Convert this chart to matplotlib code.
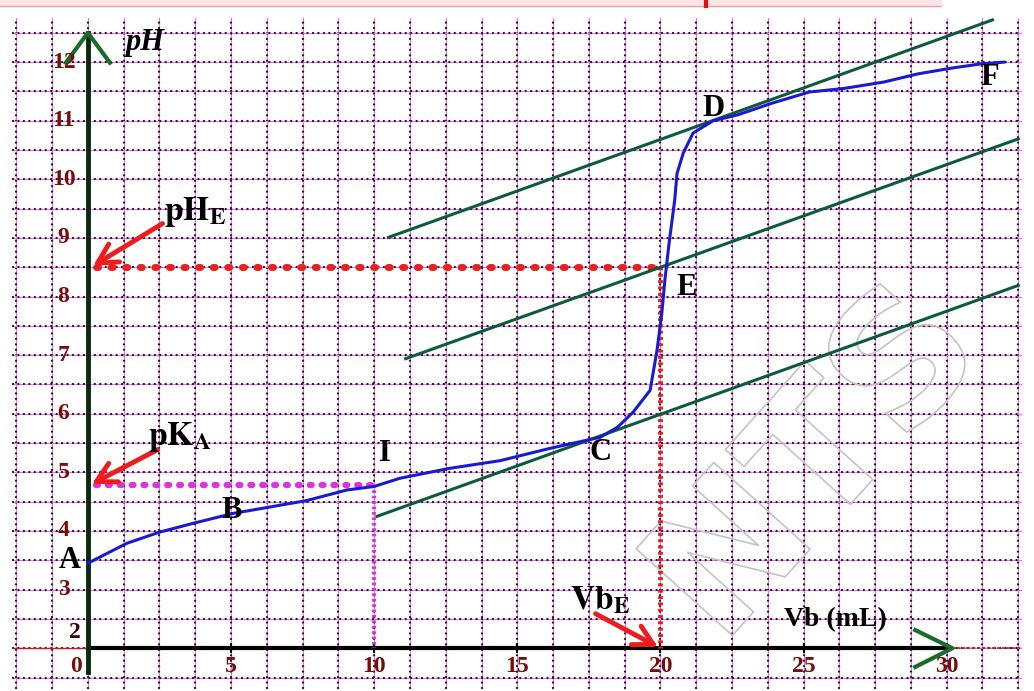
import matplotlib
matplotlib.use("Agg")
import matplotlib.pyplot as plt
import matplotlib.patheffects as pe
import numpy as np

plt.rcParams['mathtext.fontset'] = 'stix'

# titration curve (Vb in mL, pH)
vb = [0, 1.36, 2.5, 3.67, 5.07, 6.25, 7.65, 9.05, 10, 10.9, 12.65, 14.4, 16.14, 17.9,
      18.5, 19.05, 19.64, 19.88, 20.05, 20.16, 20.3, 20.5, 20.58, 20.8, 21.14, 21.84,
      22.7, 23.9, 25.2, 26.4, 27.8, 29.0, 30.2, 31.2, 32.0]
ph = [3.45, 3.79, 3.98, 4.13, 4.3, 4.4, 4.52, 4.7, 4.76, 4.9, 5.07, 5.2, 5.41, 5.6,
      5.77, 6.03, 6.4, 7.08, 7.72, 8.3, 8.9, 9.65, 10.1, 10.45, 10.79, 11.0,
      11.1, 11.3, 11.49, 11.55, 11.66, 11.8, 11.9, 11.97, 12.0]

# parallel tangent lines (start, end)
tan_top_x = [10.5, 31.6]
tan_top_y = [9.01, 12.72]
tan_mid_x = [11.1, 32.5]
tan_mid_y = [6.94, 10.69]
tan_bot_x = [10.1, 32.5]
tan_bot_y = [4.25, 8.19]

# remarkable points
vb_e, ph_e = 20, 8.5
vb_half, pka = 10, 4.78

x_ticks = [5, 10, 15, 20, 25, 30]
y_ticks = [3, 4, 5, 6, 7, 8, 9, 10, 11, 12]

point_names = ['A', 'B', 'I', 'C', 'E', 'D', 'F']
point_x = [-0.63, 5.03, 10.38, 17.9, 20.93, 21.84, 31.5]
point_y = [3.5, 4.35, 5.33, 5.34, 8.16, 11.21, 11.73]

fig = plt.figure(figsize=(10.34, 6.91), dpi=100)
ax = fig.add_axes([0, 0, 1, 1])
ax.set_xlim(-3.07, 33.05)
ax.set_ylim(1.27, 13.06)
ax.axis('off')

# pink banner remnant at the top
ax.fill_between([-3.07, 29.8], 12.95, 13.06, color='#fde4e8', zorder=1)
ax.plot([-3.07, 29.8], [12.95, 12.95], color='#f4a0a8', lw=1, zorder=1)
ax.plot([21.6, 21.6], [12.95, 13.06], color='#e01010', lw=3, zorder=1)

# grid: magenta hairline + round black dots
gx = np.arange(-2.5, 32.6, 1.25)
gy = np.arange(1.5, 12.6, 0.5)
dots = (0, (0.01, 2.3))
for x in gx:
    ax.plot([x, x], [1.32, 12.75], color='#e878e8', lw=0.8, zorder=2)
    ax.plot([x, x], [1.32, 12.75], color='#30102e', lw=1.7,
            linestyle=dots, dash_capstyle='round', zorder=2)
for y in gy:
    ax.plot([-2.6, 32.6], [y, y], color='#e878e8', lw=0.8, zorder=2)
    ax.plot([-2.6, 32.6], [y, y], color='#30102e', lw=1.7,
            linestyle=dots, dash_capstyle='round', zorder=2)

# watermark
ax.text(25.5, 5.1, 'NTS', fontsize=128, fontweight='bold', family='DejaVu Sans',
        rotation=48, ha='center', va='center', color='none', zorder=3,
        path_effects=[pe.Stroke(linewidth=1.2, foreground='#c4c4c4')])

# axes
ax.plot([-2.6, 0], [2, 2], color='#c02020', lw=1, zorder=4)
ax.plot([30, 32.6], [2, 2], color='#c02020', lw=1.2, linestyle=(0, (2, 1)), zorder=4)
ax.plot([0, 30], [2, 2], color='black', lw=3, zorder=6)
ax.plot([0, 0], [1.6, 12.5], color='#0a2a10', lw=3.5, zorder=6)
ax.plot([-0.77, 0, 0.77], [11.99, 12.5, 11.99], color='#1b6b2b', lw=3, zorder=7)
ax.plot([28.9, 30.2, 28.9], [2.31, 2.0, 1.68], color='#1b6b2b', lw=3, zorder=7)

# tick labels
tick_col = '#7a0c0c'
tick_kw = dict(fontsize=17, fontweight='bold', family='Liberation Serif',
               ha='center', va='center', zorder=8)
for t in y_ticks:
    ax.text(-0.85, t, str(t), color=tick_col, **tick_kw)
ax.text(-0.45, 2.27, '2', color='#3a0808', **tick_kw)
ax.text(-0.4, 1.68, '0', color=tick_col, **tick_kw)
for t in x_ticks:
    ax.text(t, 1.68, str(t), color=tick_col, **tick_kw)
    ax.plot([t, t], [1.94, 2.08], color='black', lw=1.5, zorder=6)

# tangents
for tx, ty in [(tan_top_x, tan_top_y), (tan_mid_x, tan_mid_y), (tan_bot_x, tan_bot_y)]:
    ax.plot(tx, ty, color='#0d5a3c', lw=2.2, zorder=9)

# construction lines
ax.plot([0.3, vb_e], [ph_e, ph_e], color='#e82020', lw=5,
        linestyle=(0, (0.3, 1.8)), dash_capstyle='round', zorder=8)
ax.plot([vb_e, vb_e], [ph_e, 2], color='#e82020', lw=3.5,
        linestyle=(0, (0.6, 0.7)), zorder=8)
ax.plot([0.3, vb_half], [pka, pka], color='#e030e0', lw=4.5,
        linestyle=(0, (0.3, 1.6)), dash_capstyle='round', zorder=8)
ax.plot([vb_half, vb_half], [pka, 2], color='#e030e0', lw=3,
        linestyle=(0, (0.6, 0.7)), zorder=8)

# curve
ax.plot(vb, ph, color='#1a1ad0', lw=2.2, zorder=10)

# arrows
arrow_kw = dict(arrowstyle='->,head_length=1.4,head_width=0.75', color='#ee1c1c', lw=3.5)
ax.annotate('', xy=(0.1, ph_e), xytext=(2.69, 9.27), arrowprops=arrow_kw, zorder=11)
ax.annotate('', xy=(0.05, pka), xytext=(2.52, 5.41), arrowprops=arrow_kw, zorder=11)
ax.annotate('', xy=(vb_e, 2.0), xytext=(17.65, 2.61), arrowprops=arrow_kw, zorder=11)

# labels
ax.text(3.74, 9.44, r'$\mathbf{pH_E}$', fontsize=24, ha='center', va='center', zorder=12)
ax.text(3.22, 5.6, r'$\mathbf{pK_A}$', fontsize=24, ha='center', va='center', zorder=12)
ax.text(17.9, 2.82, r'$\mathbf{Vb_E}$', fontsize=24, ha='center', va='center', zorder=12)
ax.text(26.1, 2.48, 'Vb (mL)', fontsize=20, fontweight='bold', family='Liberation Serif',
        ha='center', va='center', zorder=12)
ax.text(2.0, 12.34, 'pH', fontsize=22, fontweight='bold', fontstyle='italic',
        family='Liberation Serif', ha='center', va='center', zorder=12)
for name, x, y in zip(point_names, point_x, point_y):
    ax.text(x, y, name, fontsize=22, fontweight='bold', family='Liberation Serif',
            ha='center', va='center', zorder=12)

fig.savefig('out.png', dpi=100)
